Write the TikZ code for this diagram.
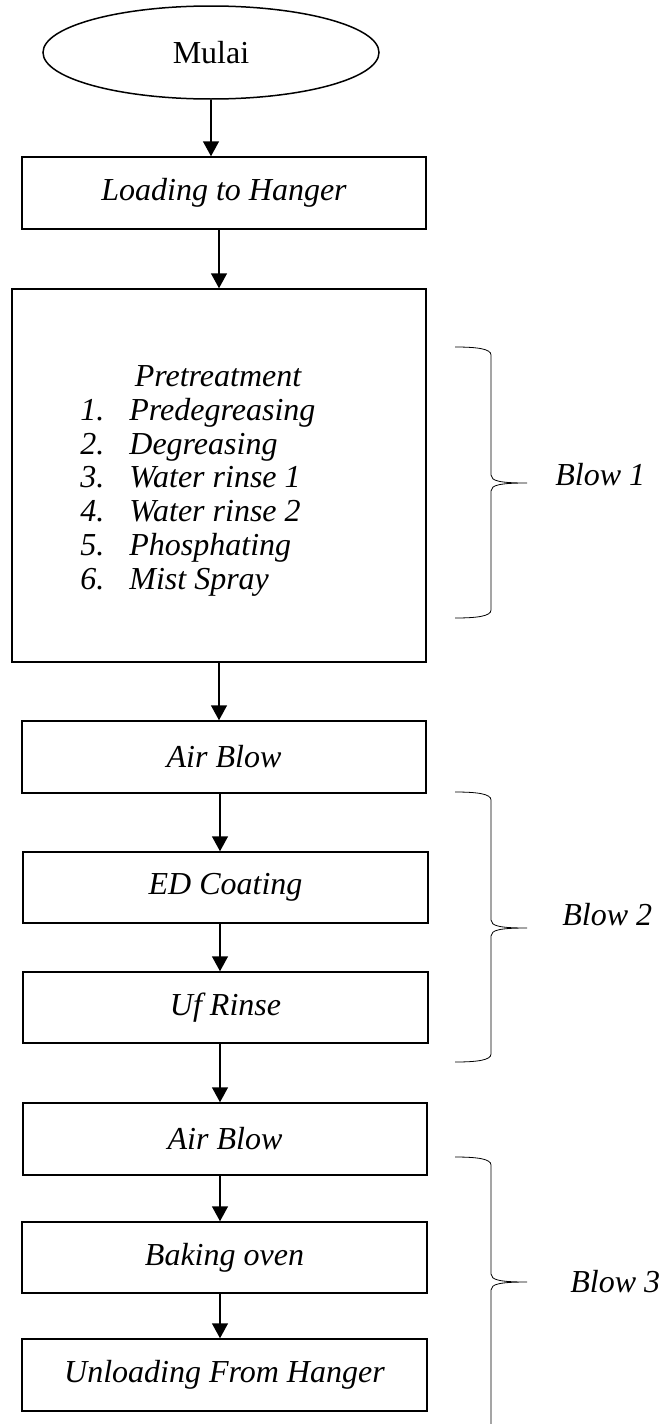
\documentclass[tikz,border=0pt]{standalone}
\usepackage{fontspec}
\setmainfont{Liberation Serif}
\usetikzlibrary{arrows.meta,shapes.geometric}
\newcommand{\fs}{\fontsize{16}{19}\selectfont}
% curly brace opening to the left, tip pointing right
\newcommand{\sidebrace}[3]{%
  \draw[bracestyle] (455,#1) .. controls (478,#1) and (491,#1+2) .. (491,#1+8)
    -- (491,#2-8) .. controls (491,#2-2) and (500,#2) .. (527,#2)
    .. controls (500,#2) and (491,#2+2) .. (491,#2+8)
    -- (491,#3-8) .. controls (491,#3-2) and (478,#3) .. (455,#3);}
\begin{document}
\begin{tikzpicture}[x=0.5pt,y=-0.5pt,
  box/.style={draw, rectangle, line width=0.75pt, inner sep=0pt, font=\fs\itshape},
  arr/.style={line width=0.75pt, -{Triangle[width=8pt,length=7.5pt]}},
  bracestyle/.style={line width=0.4pt},
  lbl/.style={inner sep=0pt, font=\fs\itshape}]
\useasboundingbox (0,0) rectangle (662,1424);

% process steps
\node[draw, ellipse, line width=0.75pt, inner sep=0pt, minimum width=168pt,
      minimum height=46.5pt, font=\fs] (mulai) at (211,52.5) {Mulai};
\node[box, minimum width=202pt, minimum height=36pt] (load) at (224,193) {Loading to Hanger};
\node[box, minimum width=207pt, minimum height=186.5pt] (pre) at (219,475.5) {};
\node[box, minimum width=202pt, minimum height=36pt] (air1) at (224,757) {Air Blow};
\node[box, minimum width=202.5pt, minimum height=35.5pt] (ed) at (225.5,887.5) {ED Coating};
\node[box, minimum width=202.5pt, minimum height=35.5pt] (uf) at (225.5,1007.5) {Uf Rinse};
\node[box, minimum width=202pt, minimum height=36pt] (air2) at (225,1139) {Air Blow};
\node[box, minimum width=202.5pt, minimum height=35.5pt] (bake) at (224.5,1257.5) {Baking oven};
\node[box, minimum width=202.5pt, minimum height=36pt] (unload) at (224.5,1375) {Unloading From Hanger};

% pretreatment contents
\node[lbl, anchor=base] (ptitle) at (218,386) {Pretreatment};
\foreach \k/\y/\t in {1/420/Predegreasing, 2/454/Degreasing, 3/487/Water rinse 1,
                      4/521/Water rinse 2, 5/555/Phosphating, 6/589/Mist Spray}{
  \node[lbl, anchor=base west] (num\k) at (80,\y) {\k.};
  \node[lbl, anchor=base west] (item\k) at (129,\y) {\t};
}

% connectors
\coordinate (axa) at (219,0);
\coordinate (axb) at (220,0);
\draw[arr] (mulai.south) -- (mulai.south |- load.north);
\draw[arr] (load.south -| axa) -- (pre.north -| axa);
\draw[arr] (pre.south -| axa) -- (air1.north -| axa);
\draw[arr] (air1.south -| axb) -- (ed.north -| axb);
\draw[arr] (ed.south -| axb) -- (uf.north -| axb);
\draw[arr] (uf.south -| axb) -- (air2.north -| axb);
\draw[arr] (air2.south -| axb) -- (bake.north -| axb);
\draw[arr] (bake.south -| axb) -- (unload.north -| axb);

% group braces
\sidebrace{347}{483}{618}
\sidebrace{792}{928}{1062}
\draw[bracestyle] (455,1157) .. controls (478,1157) and (491,1159) .. (491,1165)
    -- (491,1274) .. controls (491,1280) and (500,1282) .. (527,1282)
    .. controls (500,1282) and (491,1284) .. (491,1290) -- (491,1424);

\node[lbl, anchor=west] (blow1) at (555,475) {Blow 1};
\node[lbl, anchor=west] (blow2) at (562,915) {Blow 2};
\node[lbl, anchor=west] (blow3) at (570,1282) {Blow 3};
\end{tikzpicture}
\end{document}
